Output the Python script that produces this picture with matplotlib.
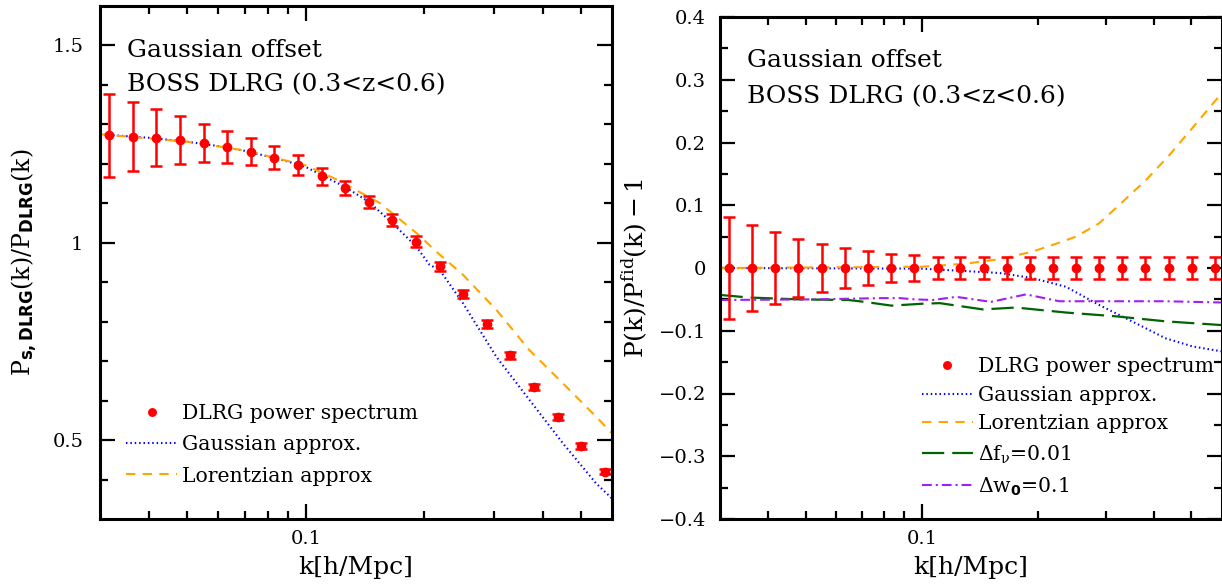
import matplotlib
matplotlib.use('Agg')
import matplotlib.pyplot as plt
from matplotlib.ticker import FuncFormatter

plt.rcParams['font.family'] = ['DejaVu Serif']
plt.rcParams['mathtext.fontset'] = 'custom'
plt.rcParams['mathtext.rm'] = 'DejaVu Serif'
plt.rcParams['mathtext.it'] = 'DejaVu Serif'
plt.rcParams['mathtext.bf'] = 'DejaVu Sans:bold'

# measured band powers (same k bins in both panels)
k_data = [0.0316, 0.0363, 0.0417, 0.0479, 0.0550, 0.0631, 0.0724, 0.0832, 0.0955, 0.110, 0.126,
          0.145, 0.166, 0.191, 0.219, 0.251, 0.288, 0.331, 0.380, 0.437, 0.501, 0.575]
ratio_data = [1.272, 1.269, 1.266, 1.260, 1.253, 1.243, 1.231, 1.216, 1.197, 1.168, 1.139,
              1.103, 1.057, 1.003, 0.940, 0.870, 0.794, 0.715, 0.635, 0.558, 0.485, 0.420]
ratio_err = [0.106, 0.087, 0.072, 0.060, 0.049, 0.040, 0.034, 0.029, 0.025, 0.021, 0.018,
             0.016, 0.015, 0.013, 0.012, 0.011, 0.010, 0.009, 0.008, 0.008, 0.007, 0.007]
resid_data = [0.0, 0.0, 0.0, 0.0, 0.0, 0.0, 0.0, 0.0, 0.0, 0.0, 0.0,
              0.0, 0.0, 0.0, 0.0, 0.0, 0.0, 0.0, 0.0, 0.0, 0.0, 0.0]
resid_err = [0.082, 0.068, 0.057, 0.047, 0.039, 0.032, 0.027, 0.023, 0.020, 0.018, 0.017,
             0.017, 0.017, 0.017, 0.017, 0.017, 0.017, 0.017, 0.017, 0.017, 0.017, 0.017]

# left panel model curves
k_gauss_l = [0.030, 0.040, 0.050, 0.060, 0.070, 0.080, 0.090, 0.100, 0.1256, 0.1445, 0.166,
             0.191, 0.2064, 0.219, 0.2508, 0.305, 0.370, 0.450, 0.547, 0.600]
gauss_l = [1.275, 1.266, 1.256, 1.245, 1.233, 1.219, 1.206, 1.192, 1.142, 1.104, 1.050,
           0.990, 0.944, 0.931, 0.847, 0.711, 0.602, 0.492, 0.390, 0.352]
k_lor_l = [0.030, 0.050, 0.070, 0.100, 0.120, 0.154, 0.191, 0.2167, 0.2508, 0.305, 0.370,
           0.450, 0.547, 0.600]
lor_l = [1.275, 1.256, 1.234, 1.196, 1.160, 1.101, 1.025, 0.974, 0.919, 0.830, 0.728,
         0.644, 0.559, 0.517]

# right panel model curves
k_gauss_r = [0.030, 0.100, 0.1305, 0.159, 0.1935, 0.2367, 0.2883, 0.3507, 0.4283, 0.5035, 0.600]
gauss_r = [0.0, -0.001, -0.005, -0.008, -0.016, -0.030, -0.059, -0.085, -0.112, -0.125, -0.133]
k_lor_r = [0.030, 0.100, 0.1305, 0.159, 0.1935, 0.2313, 0.251, 0.288, 0.331, 0.381, 0.437,
           0.501, 0.596]
lor_r = [0.0, 0.002, 0.007, 0.014, 0.026, 0.042, 0.050, 0.071, 0.105, 0.140, 0.179,
         0.222, 0.277]
k_fnu = [0.0301, 0.0356, 0.0480, 0.0645, 0.0712, 0.0835, 0.0998, 0.1113, 0.1440, 0.1755,
         0.2367, 0.3185, 0.4283, 0.600]
fnu = [-0.043, -0.047, -0.050, -0.051, -0.054, -0.060, -0.057, -0.056, -0.066, -0.063,
       -0.071, -0.077, -0.085, -0.091]
k_w0 = [0.0301, 0.0530, 0.0787, 0.0877, 0.0959, 0.1068, 0.1229, 0.1513, 0.1863, 0.2275,
        0.4283, 0.600]
w0 = [-0.051, -0.050, -0.048, -0.048, -0.050, -0.051, -0.046, -0.054, -0.042, -0.053,
      -0.053, -0.055]

fig = plt.figure(figsize=(12.22, 5.86), dpi=100)
axL = fig.add_axes([100 / 1222, 1 - 519 / 586, 512 / 1222, 513 / 586])
axR = fig.add_axes([720 / 1222, 1 - 519 / 586, 502 / 1222, 502 / 586])

gauss_style = dict(color='#0000ff', lw=1.5, dashes=(0.7, 1.4))
lor_style = dict(color='#ffa500', lw=1.5, dashes=(4.5, 3.5))
leg_kw = dict(loc='upper left', frameon=False, fontsize=14.7, handlelength=2.5, handletextpad=0.25,
              borderpad=0, borderaxespad=0, numpoints=1, markerscale=0.9)

for ax in (axL, axR):
    ax.set_xscale('log')
    ax.set_xlim(0.03, 0.6)
    ax.set_xticks([0.1])
    ax.set_xticklabels(['0.1'])
    ax.set_xticks([0.04, 0.05, 0.06, 0.07, 0.08, 0.09, 0.2, 0.3, 0.4, 0.5], minor=True)
    ax.xaxis.set_minor_formatter(FuncFormatter(lambda v, p: ''))
    ax.tick_params(which='both', direction='in', top=True, right=True, labelsize=14)
    ax.tick_params(which='major', length=11, width=1.6)
    ax.tick_params(which='minor', length=6, width=1.6)
    ax.tick_params(axis='x', pad=8)
    for s in ax.spines.values():
        s.set_linewidth(2.2)
    ax.set_xlabel('k[h/Mpc]', fontsize=18, labelpad=6)

# left panel
axL.plot(k_gauss_l, gauss_l, label='Gaussian approx.', **gauss_style)
axL.plot(k_lor_l, lor_l, label='Lorentzian approx', **lor_style)
axL.errorbar(k_data, ratio_data, yerr=ratio_err, fmt='none', ecolor='#ff0000',
             elinewidth=1.8, capsize=4, capthick=1.8)
axL.plot(k_data, ratio_data, 'o', color='#ff0000', ms=6, label='DLRG power spectrum')
axL.set_ylim(0.3, 1.6)
axL.set_yticks([0.5, 1.0, 1.5])
axL.set_yticklabels(['0.5', '1', '1.5'])
axL.set_yticks([0.4, 0.6, 0.7, 0.8, 0.9, 1.1, 1.2, 1.3, 1.4], minor=True)
axL.tick_params(axis='y', pad=12)
axL.set_ylabel(r'$\mathregular{P_{\mathbf{s,DLRG}}(k)/P_{\mathbf{DLRG}}(k)}$', fontsize=17, labelpad=9)
axL.text(0.053, 0.914, 'Gaussian offset', transform=axL.transAxes, fontsize=18, va='center')
axL.text(0.053, 0.846, 'BOSS DLRG (0.3<z<0.6)', transform=axL.transAxes, fontsize=18, va='center')
h, l = axL.get_legend_handles_labels()
axL.legend([h[2], h[0], h[1]], [l[2], l[0], l[1]], bbox_to_anchor=(0.051, 0.224),
           labelspacing=0.6, **leg_kw)

# right panel
axR.plot(k_gauss_r, gauss_r, label='Gaussian approx.', **gauss_style)
axR.plot(k_lor_r, lor_r, label='Lorentzian approx', **lor_style)
axR.plot(k_fnu, fnu, color='#006400', lw=1.6, dashes=(10, 3.6), label=r'$\Delta$f$_{\nu}$=0.01')
axR.plot(k_w0, w0, color='#a020f0', lw=1.5, dashes=(4.7, 1.9, 1, 1.9), label=r'$\Delta$w$_{\mathbf{0}}$=0.1')
axR.errorbar(k_data, resid_data, yerr=resid_err, fmt='none', ecolor='#ff0000',
             elinewidth=1.8, capsize=4, capthick=1.8)
axR.plot(k_data, resid_data, 'o', color='#ff0000', ms=6, label='DLRG power spectrum')
axR.set_ylim(-0.4, 0.4)
axR.set_yticks([-0.4, -0.3, -0.2, -0.1, 0.0, 0.1, 0.2, 0.3, 0.4])
axR.yaxis.set_major_formatter(FuncFormatter(
    lambda v, p: '0' if abs(v) < 1e-9 else ('%.1f' % v).replace('-', '\u2212')))
axR.set_yticks([-0.35, -0.25, -0.15, -0.05, 0.05, 0.15, 0.25, 0.35], minor=True)
axR.tick_params(axis='y', pad=10)
axR.set_ylabel(r'$\mathregular{P(k)/P^{fid}(k)-1}$', fontsize=18, labelpad=6)
axR.text(0.054, 0.914, 'Gaussian offset', transform=axR.transAxes, fontsize=18, va='center')
axR.text(0.054, 0.841, 'BOSS DLRG (0.3<z<0.6)', transform=axR.transAxes, fontsize=18, va='center')
h, l = axR.get_legend_handles_labels()
order = [4, 0, 1, 2, 3]
axR.legend([h[i] for i in order], [l[i] for i in order], bbox_to_anchor=(0.402, 0.323),
           labelspacing=0.48, **leg_kw)

fig.savefig('out.png', dpi=100)
